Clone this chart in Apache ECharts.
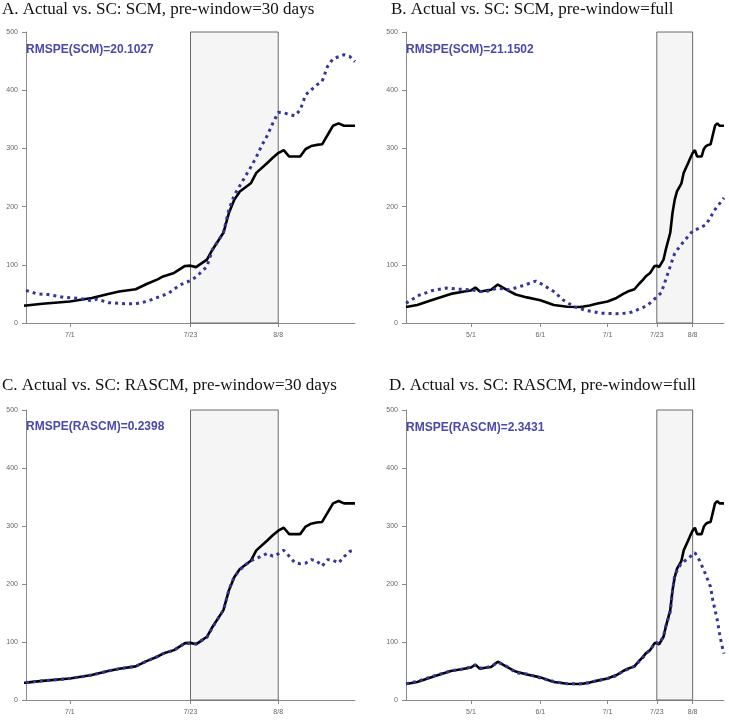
<!DOCTYPE html>
<html>
<head>
<meta charset="utf-8">
<script src="https://cdn.jsdelivr.net/npm/echarts@6/dist/echarts.min.js"></script>
<style>
html,body{margin:0;padding:0;background:#fff;}
#chart{width:729px;height:722px;}
</style>
</head>
<body>
<div id="chart"></div>
<script>
// ---------- data ----------
const actualDates = ['4/2','4/7','4/14','4/22','4/28','5/1','5/3','5/5','5/8','5/10','5/13','5/17','5/21','5/26','6/1','6/7','6/13','6/19','6/23','6/26','7/1','7/5','7/8','7/10','7/13','7/15','7/17','7/18','7/20','7/21','7/22','7/23','7/24','7/26','7/27','7/29','7/30','7/31','8/1','8/3','8/4','8/6','8/7','8/8','8/9','8/10','8/12','8/13','8/14','8/15','8/16','8/17','8/18','8/19','8/20','8/22'];
const actualValues = [27.5,31,40,50,54,56,61,54,56,57,66,57,49,44,39,31,28,27.5,30,33,37,43,50,54,58,67,75,80,86,92,98,98.5,96,109,126,155,189,212,226,240,258,275,284,292,297,286,286,299,304,306,307,323,339,343,339,339];

const scA_dates = ['6/23','6/25','6/27','6/30','7/3','7/5','7/6','7/8','7/11','7/13','7/15','7/17','7/19','7/21','7/23','7/24','7/26','7/27','7/29','7/30','7/31','8/1','8/2','8/3','8/4','8/5','8/6','8/7','8/8','8/9','8/11','8/12','8/13','8/15','8/16','8/17','8/18','8/20','8/21','8/22'];
const scA_values = [56,50,49,44,42,38,41,35,33,33,37,44,51,65,73,79,97,126,155,195,220,236,252,268,285,305,322,343,362,361,356,366,392,409,415,441,454,461,458,449];

const scB_dates = ['4/2','4/8','4/14','4/20','4/26','5/1','5/7','5/13','5/18','5/24','5/30','6/2','6/7','6/11','6/16','6/22','6/28','7/5','7/10','7/12','7/17','7/19','7/23','7/25','7/28','7/31','8/4','8/8','8/11','8/14','8/18','8/22'];
const scB_values = [34,48,56,60,58,57,53,60,57,64,72,66,54,40,28,21,17,16,17,19,27,31,45,52,86,120,140,158,163,169,195,215];

const scC_dates = ['6/23','6/26','7/1','7/5','7/8','7/10','7/13','7/15','7/17','7/18','7/20','7/21','7/22','7/23','7/24','7/26','7/27','7/29','7/30','7/31','8/1','8/2','8/3','8/4','8/5','8/6','8/7','8/8','8/9','8/10','8/11','8/12','8/13','8/14','8/15','8/16','8/17','8/18','8/19','8/20','8/21','8/22'];
const scC_values = [30,33,37,43,50,54,58,67,75,80,86,92,98,98,97,108,125,155,190,213,224,233,240,244,248,253,248,252,258,248,237,235,236,242,240,231,242,241,236,247,256,259];

const scD_dates = ['4/2','4/7','4/14','4/22','4/28','5/1','5/3','5/5','5/8','5/10','5/13','5/17','5/21','5/26','6/1','6/7','6/13','6/19','6/23','6/26','7/1','7/5','7/8','7/10','7/13','7/15','7/17','7/18','7/20','7/22','7/23','7/24','7/26','7/27','7/29','7/30','7/31','8/3','8/6','8/9','8/11','8/13','8/16','8/17','8/18','8/19','8/20','8/21','8/22'];
const scD_values = [28,32,41,50,54,57,60,55,56,58,65,58,47,45,38,32,28,28,30,33,37,42,50,53,58,66,74,80,86,97,99,97,110,127,152,187,216,236,244,254,241,224,195,172,155,138,115,95,80];

const ticksShort = ['7/1','7/23','8/8'];
const ticksFull = ['5/1','6/1','7/1','7/23','8/8'];
const windowDates = ['7/23','8/8'];

const titles = [
  'A. Actual vs. SC: SCM, pre-window=30 days',
  'B. Actual vs. SC: SCM, pre-window=full',
  'C. Actual vs. SC: RASCM, pre-window=30 days',
  'D. Actual vs. SC: RASCM, pre-window=full'
];
const rmspeLabels = ['RMSPE(SCM)=20.1027','RMSPE(SCM)=21.1502','RMSPE(RASCM)=0.2398','RMSPE(RASCM)=2.3431'];

// ---------- helpers ----------
function dayNum(s){ const p = s.split('/').map(Number); return Date.UTC(2020, p[0]-1, p[1]) / 86400000; }
function pairs(dates, vals){ return dates.map((s,i)=>[dayNum(s), vals[i]]); }
const dayToLabel = {};
ticksFull.concat(ticksShort).forEach(s=>{ dayToLabel[dayNum(s)] = s; });

const panels = [
  {grid:{left:26, top:32, width:329, height:291}, min:'6/23', max:'8/22', ticks:ticksShort, sd:scA_dates, sv:scA_values, titlePos:{left:2, top:1}, rm:{left:26, top:44}},
  {grid:{left:406, top:32, width:318, height:291}, min:'4/2', max:'8/22', ticks:ticksFull, sd:scB_dates, sv:scB_values, titlePos:{left:391, top:1}, rm:{left:406, top:44}},
  {grid:{left:26, top:410, width:329, height:290}, min:'6/23', max:'8/22', ticks:ticksShort, sd:scC_dates, sv:scC_values, titlePos:{left:2, top:377}, rm:{left:26, top:421}},
  {grid:{left:406, top:410, width:318, height:290}, min:'4/2', max:'8/22', ticks:ticksFull, sd:scD_dates, sv:scD_values, titlePos:{left:389, top:377}, rm:{left:406, top:422}}
];

const axisColor = '#8a8a8a';
const labelStyle = {fontSize:7, color:'#666', fontFamily:'Liberation Sans'};

const option = {
  backgroundColor:'#fff',
  animation:false,
  title:[], grid:[], xAxis:[], yAxis:[], series:[]
};

panels.forEach((p, i)=>{
  option.title.push({text:titles[i], left:p.titlePos.left, top:p.titlePos.top, padding:0,
    textStyle:{fontFamily:'Liberation Serif', fontWeight:'normal', fontSize:17, color:'#111'}});
  option.title.push({text:rmspeLabels[i], left:p.rm.left, top:p.rm.top, padding:0,
    textStyle:{fontFamily:'Liberation Sans', fontWeight:'bold', fontSize:12, color:'#4848ae'}});
  option.grid.push(Object.assign({containLabel:false}, p.grid));
  const tv = p.ticks.map(dayNum);
  option.xAxis.push({
    type:'value', gridIndex:i, min:dayNum(p.min), max:dayNum(p.max),
    axisLine:{show:true, onZero:false, lineStyle:{color:axisColor, width:1}},
    axisTick:{show:true, customValues:tv, length:4, lineStyle:{color:axisColor}},
    axisLabel:{show:true, customValues:tv, margin:9, formatter:v=>dayToLabel[v]||'', ...labelStyle},
    splitLine:{show:false}
  });
  option.yAxis.push({
    type:'value', gridIndex:i, min:0, max:500, interval:100,
    axisLine:{show:true, lineStyle:{color:axisColor, width:1}},
    axisTick:{show:true, length:4, lineStyle:{color:axisColor}},
    axisLabel:{show:true, margin:8, ...labelStyle},
    splitLine:{show:false}
  });
  option.series.push({
    type:'line', xAxisIndex:i, yAxisIndex:i, data:pairs(actualDates, actualValues),
    showSymbol:false, z:3, lineStyle:{color:'#000', width:2.6},
    markArea:{silent:true, z:1,
      itemStyle:{color:'#f5f5f5', borderColor:'#6a6a6a', borderWidth:1},
      data:[[{xAxis:dayNum(windowDates[0]), yAxis:0},{xAxis:dayNum(windowDates[1]), yAxis:500}]]}
  });
  option.series.push({
    type:'line', xAxisIndex:i, yAxisIndex:i, data:pairs(p.sd, p.sv),
    showSymbol:false, z:4, lineStyle:{color:'#34349c', width:3, type:[3,4]}
  });
});

const chart = echarts.init(document.getElementById('chart'), null, {renderer:'canvas'});
chart.setOption(option);
</script>
</body>
</html>
